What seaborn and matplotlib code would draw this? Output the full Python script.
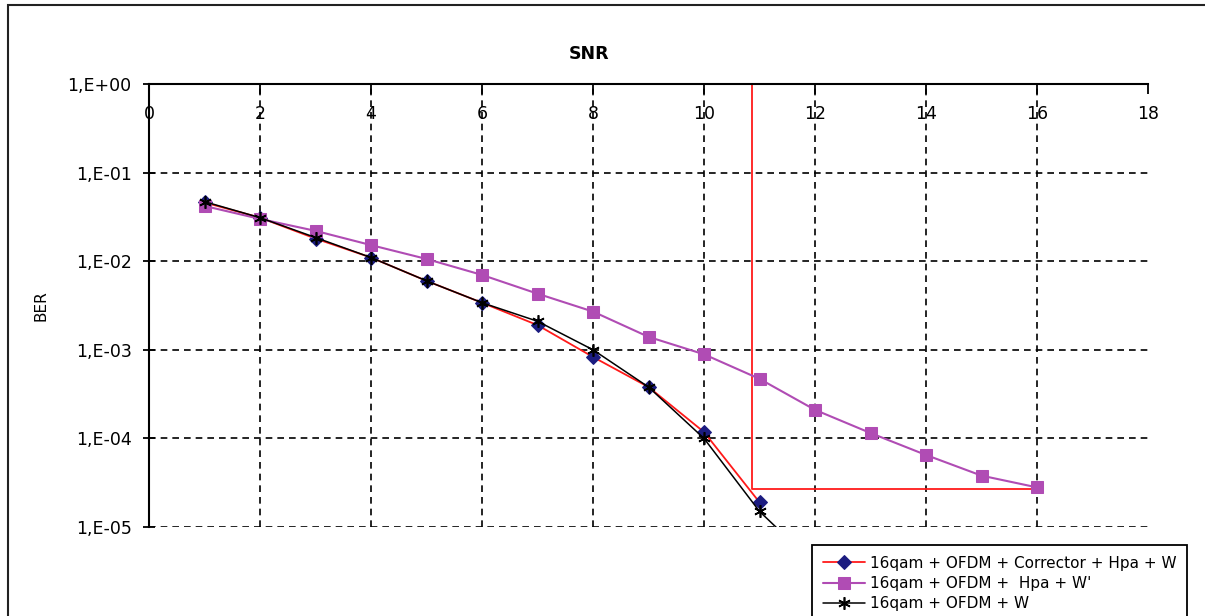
import numpy as np
import pandas as pd
import matplotlib
matplotlib.use("Agg")
import matplotlib.pyplot as plt
from matplotlib.patches import Rectangle
from matplotlib.ticker import FixedLocator, FuncFormatter, NullLocator
import seaborn as sns

# SNR (dB) points for each simulated chain
snr_corr = [1, 2, 3, 4, 5, 6, 7, 8, 9, 10, 11]
ber_corr = [0.046, 0.031, 0.018, 0.011, 0.006, 0.0034, 0.0019, 0.00083,
            0.00038, 0.000118, 1.9e-5]

snr_hpa = [1, 2, 3, 4, 5, 6, 7, 8, 9, 10, 11, 12, 13, 14, 15, 16]
ber_hpa = [0.042, 0.030, 0.022, 0.0152, 0.0106, 0.0070, 0.0043, 0.0027,
           0.0014, 0.00089, 0.00047, 0.00021, 0.000115, 6.5e-5, 3.8e-5, 2.8e-5]

snr_awgn = [1, 2, 3, 4, 5, 6, 7, 8, 9, 10, 11, 12]
ber_awgn = [0.047, 0.031, 0.0185, 0.011, 0.006, 0.0034, 0.0021, 0.00100,
            0.00038, 0.0001, 1.5e-5, 3.8e-6]

# SNR gain marker: corrected chain vs. uncorrected chain at the same BER
gain_snr = [10.86, 10.86, 16]
gain_ber = [1.0, 2.7e-5, 2.7e-5]

labels = ["16qam + OFDM + Corrector + Hpa + W",
          "16qam + OFDM +  Hpa + W'",
          "16qam + OFDM + W"]
x_ticks = [0, 2, 4, 6, 8, 10, 12, 14, 16, 18]
y_ticks = [1e0, 1e-1, 1e-2, 1e-3, 1e-4, 1e-5]

sns.set_style("white")
plt.rcParams["font.family"] = ["DejaVu Sans"]
plt.rcParams["text.color"] = "black"
plt.rcParams["axes.labelcolor"] = "black"

W, H = 1205, 616
fig = plt.figure(figsize=(W / 100, H / 100), dpi=100)
ax = fig.add_axes([149 / W, 1 - 527 / H, (1148 - 149) / W, (527 - 84) / H])

red = "#ff1a1a"
navy = "#1c1c80"
purple = "#b04cb4"

df_corr = pd.DataFrame({"snr": snr_corr, "ber": ber_corr})
df_hpa = pd.DataFrame({"snr": snr_hpa, "ber": ber_hpa})
df_awgn = pd.DataFrame({"snr": snr_awgn, "ber": ber_awgn})

sns.lineplot(data=df_corr, x="snr", y="ber", ax=ax, color=red, lw=1.3,
             marker="D", markersize=7, markerfacecolor=navy,
             markeredgecolor=navy, label=labels[0], estimator=None, zorder=3)
sns.lineplot(data=df_hpa, x="snr", y="ber", ax=ax, color=purple, lw=1.5,
             marker="s", markersize=8, markerfacecolor=purple,
             markeredgecolor=purple, label=labels[1], estimator=None, zorder=3)
sns.lineplot(data=df_awgn, x="snr", y="ber", ax=ax, color="black", lw=1.1,
             marker=(6, 2, 0), markersize=9, markeredgewidth=1.2,
             markeredgecolor="black", label=labels[2], estimator=None, zorder=4)

ax.plot(gain_snr, gain_ber, color=red, lw=1.3, zorder=2)

ax.set_yscale("log")
ax.set_xlim(0, 18)
ax.set_ylim(1e-5, 1)

ax.xaxis.set_major_locator(FixedLocator(x_ticks))
ax.xaxis.set_minor_locator(NullLocator())
ax.yaxis.set_major_locator(FixedLocator(y_ticks))
ax.yaxis.set_minor_locator(NullLocator())
ax.yaxis.set_major_formatter(
    FuncFormatter(lambda v, p: "1,E" + format(int(round(np.log10(v))), "+03d")))

# x axis runs along the top, labels sit just under it inside the plot
ax.xaxis.tick_top()
ax.tick_params(axis="x", top=True, bottom=False, labeltop=True,
               labelbottom=False, direction="in", length=7, width=1.3,
               pad=-28, labelsize=12.5, colors="black")
ax.tick_params(axis="y", left=True, direction="inout", length=9, width=1.3,
               pad=8, labelsize=12.5, colors="black")

ax.set_xlabel("")
ax.set_ylabel("BER", fontsize=11, labelpad=14, color="black")

for side in ("right", "bottom"):
    ax.spines[side].set_visible(False)
for side in ("left", "top"):
    ax.spines[side].set_color("black")
    ax.spines[side].set_linewidth(1.5)

ax.grid(True, which="major", color="black", linestyle=(0, (4, 3)), lw=1.2)
gl = ax.xaxis.get_gridlines()
gl[0].set_visible(False)
gl[-1].set_visible(False)
ax.yaxis.get_gridlines()[0].set_visible(False)

fig.text(589 / W, 1 - 54 / H, "SNR", ha="center", va="center",
         fontsize=12.5, fontweight="bold", color="black")

leg = ax.legend(loc="upper left", bbox_to_anchor=(812 / W, 1 - 545 / H),
                bbox_transform=fig.transFigure, fontsize=11, frameon=True,
                fancybox=False, edgecolor="black", framealpha=1,
                handlelength=2.8, handletextpad=0.3, labelspacing=0.35,
                borderpad=0.7, borderaxespad=0)
leg.get_frame().set_linewidth(1.3)
for t in leg.get_texts():
    t.set_color("black")

# outer chart border
fig.patches.append(Rectangle((8 / W, -0.05), 1.1, 1 - 5 / H + 0.05,
                             transform=fig.transFigure, fill=False,
                             edgecolor="#222222", lw=1.5))

fig.savefig("out.png", dpi=100)
